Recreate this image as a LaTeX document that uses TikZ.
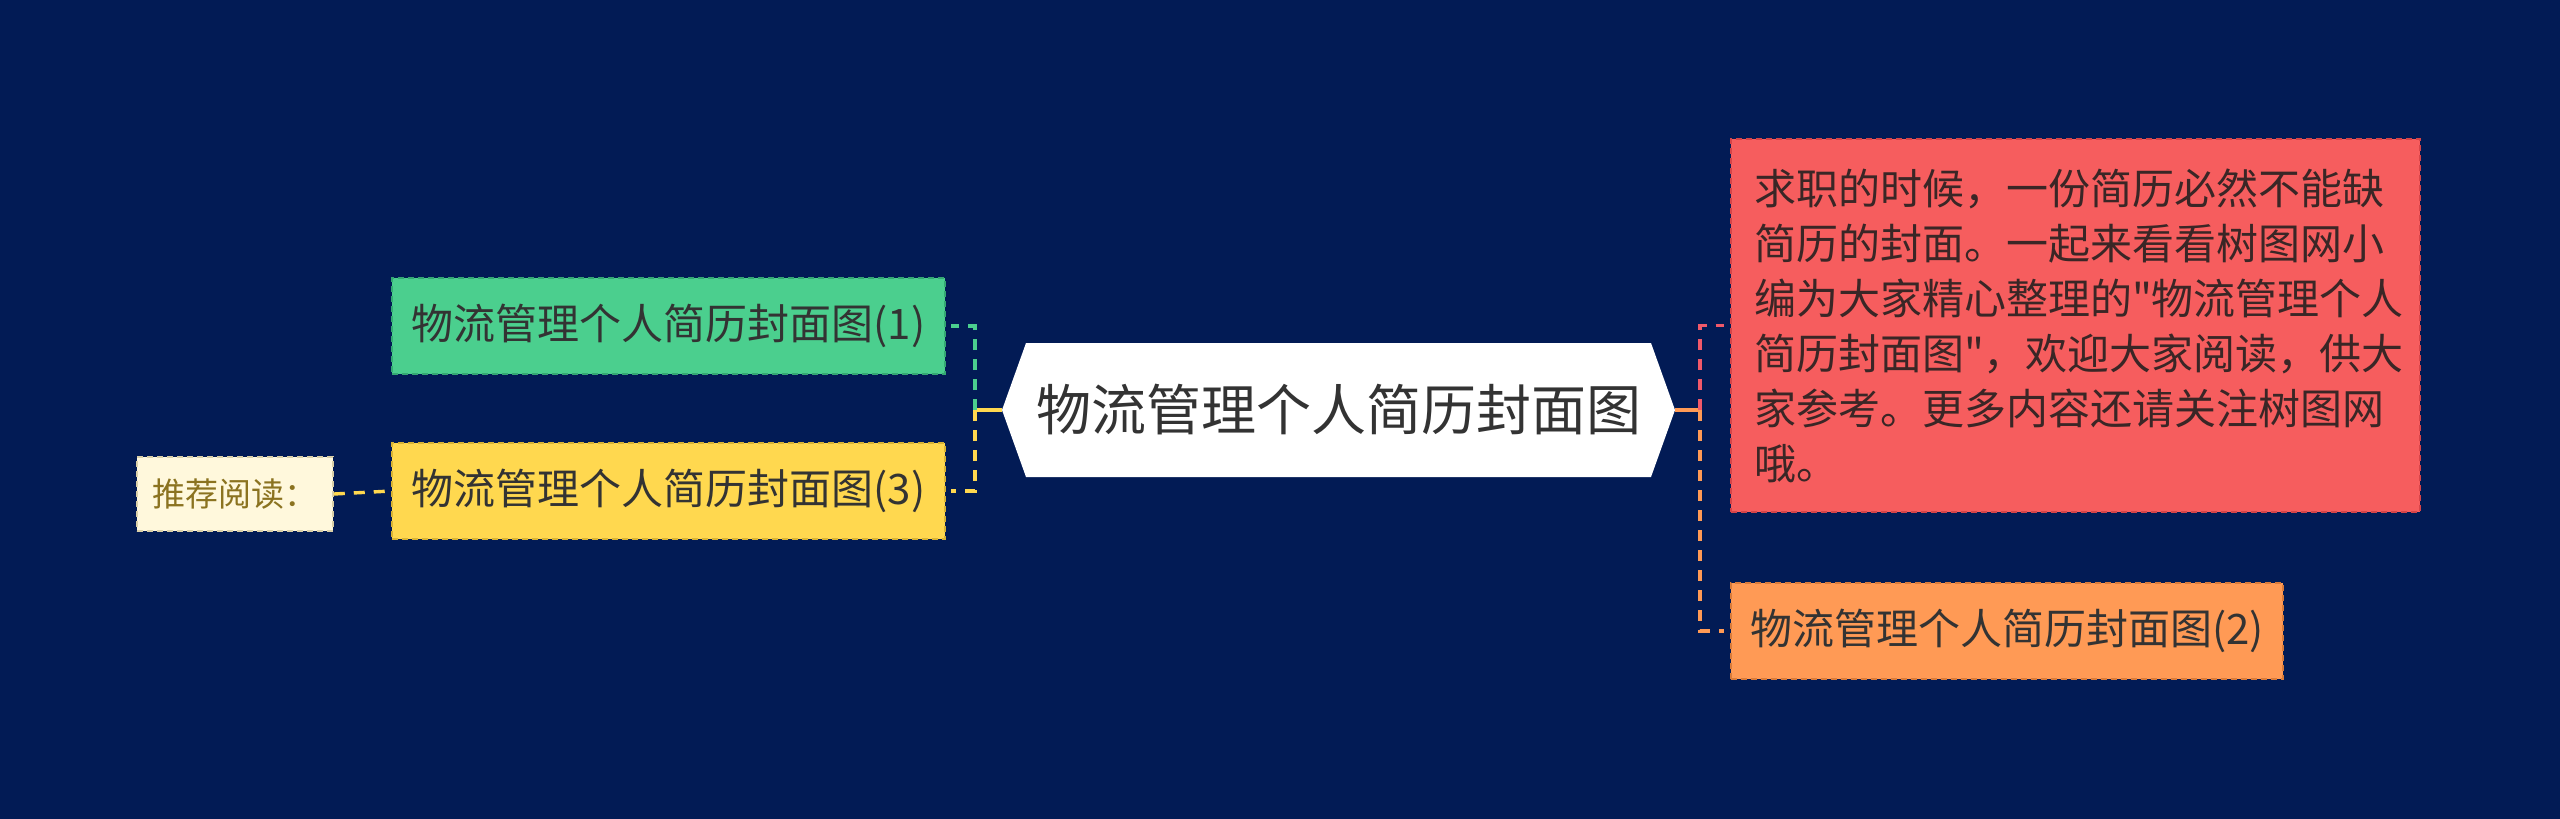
\documentclass[tikz,border=0pt]{standalone}
\usepackage{fontspec}
\setmainfont{Noto Sans CJK SC}[Ligatures=TeXOff]
\definecolor{bg}{HTML}{021B55}
\definecolor{cgreen}{HTML}{4BCF8E}
\definecolor{cgreenD}{HTML}{34A873}
\definecolor{cyellow}{HTML}{FFD84F}
\definecolor{cyellowD}{HTML}{D8B334}
\definecolor{cred}{HTML}{F65D5E}
\definecolor{credD}{HTML}{D64448}
\definecolor{cpink}{HTML}{F0596A}
\definecolor{corange}{HTML}{FF9A55}
\definecolor{corangeD}{HTML}{D97B3A}
\definecolor{ccream}{HTML}{FFF8DC}
\definecolor{ccreamD}{HTML}{D9CFA8}
\definecolor{colive}{HTML}{8B7320}
\definecolor{ctext}{HTML}{333333}
\definecolor{credtext}{HTML}{3A2626}
\begin{document}
\begin{tikzpicture}[x=1pt,y=-1pt,
  box/.style={inner sep=0pt, minimum height=96pt, dash pattern=on 6pt off 4pt, line width=1.6pt, text=ctext, font=\fontsize{42}{50}\selectfont},
  conn/.style={line width=3.4pt},
  dconn/.style={line width=3.4pt, dash pattern=on 11pt off 9pt}]
\useasboundingbox (0,0) rectangle (2560,819);
\fill[bg] (0,0) rectangle (2560,819);
% center hexagon
\coordinate (hw) at (1002,410);
\coordinate (he) at (1675,410);
\fill[white] (hw) -- (1026,343) -- (1651,343) -- (he) -- (1651,477) -- (1026,477) -- cycle;
\node[inner sep=0pt, minimum width=673pt, minimum height=134pt, text=ctext, font=\fontsize{55}{60}\selectfont] (c) at (1338.5,410) {物流管理个人简历封面图};
% left boxes
\node[box, fill=cgreen, draw=cgreenD, minimum width=553pt] (g1) at (668.5,326) {物流管理个人简历封面图(1)};
\node[box, fill=cyellow, draw=cyellowD, minimum width=553pt] (g3) at (668.5,491) {物流管理个人简历封面图(3)};
\node[box, fill=ccream, draw=ccreamD, minimum width=196pt, minimum height=74pt, text=colive, font=\fontsize{33}{38}\selectfont] (rec) at (235,494) {推荐阅读：};
% right boxes
\node[box, fill=cred, draw=credD, inner xsep=23pt, text width=643pt, minimum height=373pt, align=left, text=credtext, font=\fontsize{42}{55}\selectfont] (r1) at (2075.5,325.5) {求职的时候，一份简历必然不能缺\\简历的封面。一起来看看树图网小\\编为大家精心整理的"物流管理个人\\简历封面图"，欢迎大家阅读，供大\\家参考。更多内容还请关注树图网\\哦。};
\node[box, fill=corange, draw=corangeD, minimum width=552pt] (g2) at (2007,631) {物流管理个人简历封面图(2)};
% junctions
\coordinate (jl) at (975,410);
\coordinate (jr) at (1700,410);
% connectors left
\draw[conn, cyellow] (c.west) -- (jl);
\draw[dconn, cgreen, shorten >=5pt] (jl) |- (g1.east);
\draw[dconn, cyellow, shorten >=5pt] (jl) |- (g3.east);
\draw[dconn, cyellow] (rec.east) -- (g3.west);
% connectors right
\draw[conn, corange] (c.east) -- (jr);
\draw[dconn, cpink, shorten >=6pt] (jr) |- (r1.west);
\draw[dconn, corange, shorten >=6pt] (jr) |- (g2.west);
\end{tikzpicture}
\end{document}
